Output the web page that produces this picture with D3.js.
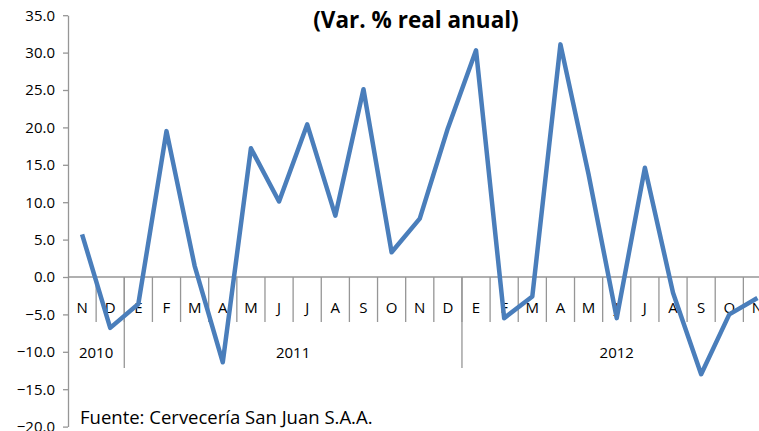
<!DOCTYPE html>
<html lang="en">
<head>
<meta charset="utf-8">
<script src="https://cdn.jsdelivr.net/npm/d3@7"></script>
<style>
body { margin: 0; background: #fff; }
text { font-family: "Open Sans", "DejaVu Sans", sans-serif; fill: #000; }
</style>
</head>
<body>
<script>
// monthly data, Nov 2010 - Nov 2012
var months = ["N","D","E","F","M","A","M","J","J","A","S","O","N","D","E","F","M","A","M","J","J","A","S","O","N"];
var values = [5.7, -6.8, -3.6, 19.5, 1.5, -11.4, 17.2, 10.1, 20.4, 8.2, 25.1, 3.3, 7.8, 19.9,
              30.3, -5.5, -2.6, 31.1, 13.7, -5.5, 14.6, -2.1, -13.0, -5.0, -2.8];
var years = ["2010", "2011", "2012"];
var yearCounts = [2, 12, 11];
var yTicks = [35, 30, 25, 20, 15, 10, 5, 0, -5, -10, -15, -20];

var width = 759, height = 431;
var left = 68, right = 771.5;

var svg = d3.select("body").append("svg")
	.attr("width", width)
	.attr("height", height);

var x = d3.scaleBand()
	.domain(d3.range(months.length))
	.range([left, right]);

var y = d3.scaleLinear()
	.domain([-20, 35])
	.range([426.6, 15.2]);

var axisColor = "#969696";

// y axis
var yAxis = svg.append("g")
	.attr("transform", "translate(" + left + ",0)")
	.call(d3.axisLeft(y).tickValues(yTicks).tickSize(5).tickSizeOuter(0).tickFormat(d3.format(".1f")));
yAxis.select(".domain").attr("stroke", axisColor).attr("stroke-width", 1.3);
yAxis.selectAll(".tick line").attr("stroke", axisColor).attr("stroke-width", 1.3);
yAxis.selectAll(".tick text")
	.attr("x", -13)
	.style("font-size", "15px")
	.style("font-family", "'Open Sans', sans-serif");

// zero axis with category separators
var y0 = y(0);
svg.append("line")
	.attr("x1", left).attr("x2", right)
	.attr("y1", y0).attr("y2", y0)
	.attr("stroke", axisColor).attr("stroke-width", 1.5);

svg.selectAll(".sep")
	.data(d3.range(1, months.length))
	.enter().append("line")
	.attr("x1", function(d) { return x(d); })
	.attr("x2", function(d) { return x(d); })
	.attr("y1", y0)
	.attr("y2", y0 + 45)
	.attr("stroke", axisColor).attr("stroke-width", 1.3);

// year separators
var starts = [0];
yearCounts.forEach(function(c, i) { starts.push(starts[i] + c); });
svg.selectAll(".ysep")
	.data(starts.slice(1, 3))
	.enter().append("line")
	.attr("x1", function(d) { return x(d); })
	.attr("x2", function(d) { return x(d); })
	.attr("y1", y0)
	.attr("y2", y0 + 91)
	.attr("stroke", axisColor).attr("stroke-width", 1.3);

svg.selectAll(".mlab")
	.data(months)
	.enter().append("text")
	.attr("x", function(d, i) { return x(i) + x.bandwidth() / 2; })
	.attr("y", y0 + 36)
	.attr("text-anchor", "middle")
	.style("font-size", "15px")
	.text(function(d) { return d; });

svg.selectAll(".ylab")
	.data(years)
	.enter().append("text")
	.attr("x", function(d, i) {
		var a = x(starts[i]);
		var b = (i == years.length - 1) ? right : x(starts[i + 1]);
		return (a + b) / 2;
	})
	.attr("y", y0 + 81)
	.attr("text-anchor", "middle")
	.style("font-size", "15px")
	.text(function(d) { return d; });

// line
var line = d3.line()
	.x(function(d, i) { return x(i) + x.bandwidth() / 2; })
	.y(function(d) { return y(d); });

svg.append("path")
	.datum(values)
	.attr("d", line)
	.attr("fill", "none")
	.attr("stroke", "#4a7ebb")
	.attr("stroke-width", 4.5)
	.attr("stroke-linejoin", "round");

// title and source
svg.append("text")
	.attr("x", 416)
	.attr("y", 28)
	.attr("text-anchor", "middle")
	.style("font-size", "22.5px")
	.style("font-weight", "bold")
	.text("(Var. % real anual)");

svg.append("text")
	.attr("x", 80)
	.attr("y", 424)
	.style("font-size", "18.5px")
	.text("Fuente: Cervecería San Juan S.A.A.");
</script>
</body>
</html>
